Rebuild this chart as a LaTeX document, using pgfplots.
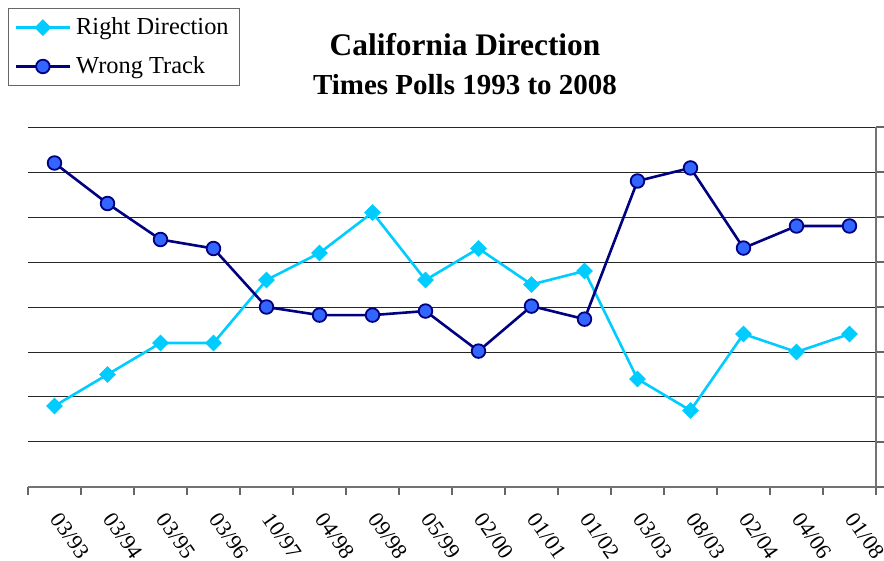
\documentclass[border=0pt]{standalone}
\usepackage{pgfplots}
\pgfplotsset{compat=1.18}
\usepackage{fontspec}
\setmainfont{Liberation Serif}
\definecolor{rdcol}{RGB}{0,204,255}
\definecolor{wtline}{RGB}{0,0,128}
\definecolor{wtfill}{RGB}{51,102,255}
\begin{document}
\begin{tikzpicture}
\begin{axis}[
  at={(0,0)}, anchor=south west,
  scale only axis, width=424pt, height=180pt,
  xmin=-0.5, xmax=15.5, ymin=0, ymax=80,
  axis x line*=bottom, axis y line*=right,
  axis line style={black!55, line width=0.6pt},
  xtick={0,...,15},
  xticklabels={03/93,03/94,03/95,03/96,10/97,04/98,09/98,05/99,02/00,01/01,01/02,03/03,08/03,02/04,04/06,01/08},
  major x tick style={draw=none},
  minor xtick={-0.5,0.5,...,15.5},
  minor x tick style={black!60, line width=0.6pt},
  minor tick length=4pt,
  x tick label style={font=\fontsize{11}{13}\selectfont, yshift=-9pt, rotate=-55, anchor=west, inner sep=1pt},
  ytick={0,10,...,80}, yticklabels={},
  y tick style={black!60, line width=0.6pt},
  major tick length=4pt,
  tick align=outside,
  ymajorgrids, grid style={black!85, line width=0.5pt},
  legend style={at={(-10pt,239.5pt)}, anchor=north west, draw=black!60, line width=0.6pt,
    font=\fontsize{12.2}{14}\selectfont, row sep=5.5pt, inner xsep=3pt, inner ysep=2.5pt,
    nodes={inner xsep=2.5pt}},
  legend cell align=left,
  legend image code/.code={\draw[#1] (0pt,0pt) -- (27pt,0pt); \draw[#1, mark repeat=2, mark phase=2] plot coordinates {(0pt,0pt) (13.5pt,0pt) (27pt,0pt)};},
  clip=false,
]
\addplot[rdcol, line width=1.3pt, mark=square*, mark size=2.7pt, mark options={rotate=45, fill=rdcol, draw=rdcol, line width=0.5pt}]
  coordinates {(0,18) (1,25) (2,32) (3,32) (4,46) (5,52) (6,61) (7,46) (8,53) (9,45) (10,48) (11,24) (12,17) (13,34) (14,30) (15,34)};
\addlegendentry{Right Direction}
\addplot[wtline, line width=1.3pt, mark=*, mark size=3.4pt, mark options={fill=wtfill, draw=wtline, line width=0.9pt}]
  coordinates {(0,72) (1,63) (2,55) (3,53) (4,40) (5,38.2) (6,38.2) (7,39.1) (8,30.2) (9,40.2) (10,37.3) (11,68) (12,70.9) (13,53.1) (14,58) (15,58)};
\addlegendentry{Wrong Track}
\end{axis}
\node[font=\bfseries\fontsize{15.7}{18}\selectfont] at (218.5pt,221pt) {California Direction};
\node[font=\bfseries\fontsize{14.5}{17}\selectfont] at (218.5pt,201pt) {Times Polls 1993 to 2008};
\pgfresetboundingbox
\path (-14pt,-37pt) rectangle (428pt,243.5pt);
\end{tikzpicture}
\end{document}
